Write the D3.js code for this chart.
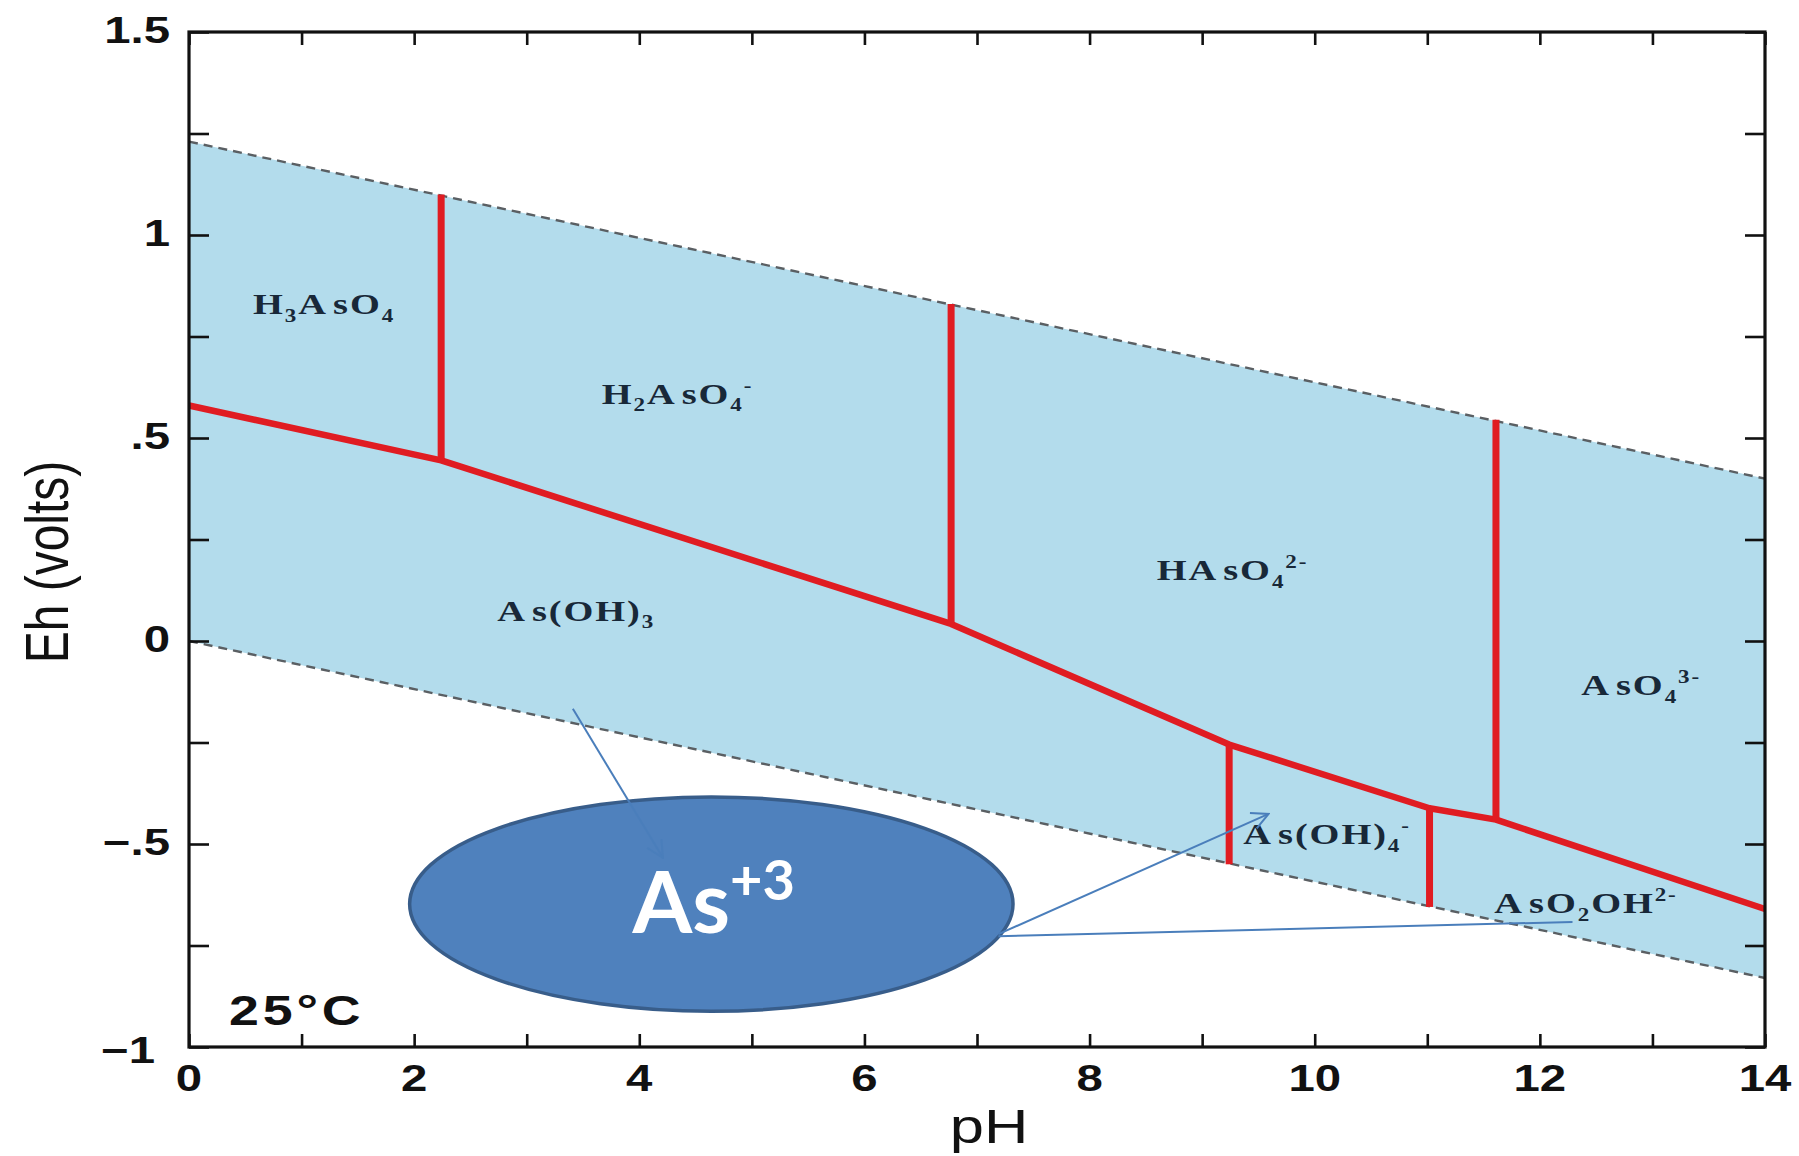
<!DOCTYPE html>
<html>
<head>
<meta charset="utf-8">
<script src="https://cdn.jsdelivr.net/npm/d3@7"></script>
<style>
  body { margin: 0; background: #fff; }
  svg { display: block; }
</style>
</head>
<body>
<div id="chart"></div>
<script>
// Eh-pH diagram for arsenic, 25°C
const xTicks = [0, 2, 4, 6, 8, 10, 12, 14];
const yTicks = [1.5, 1, 0.5, 0, -0.5, -1];
const yTickLabels = ['1.5', '1', '.5', '0', '\u2212.5', '\u22121'];

// stability limits of water (dashed)
const waterPH = [0, 14];
const waterUpperEh = [1.23, 0.40];
const waterLowerEh = [0, -0.83];

// As(V) / As(III) boundary
const redoxPH = [0, 2.24, 6.77, 9.24, 11.02, 11.61, 14];
const redoxEh = [0.58, 0.445, 0.042, -0.255, -0.412, -0.44, -0.66];

// vertical boundaries above the redox line
const upperSplitPH = [2.24, 6.77, 11.61];
const upperSplitTop = [1.10, 0.83, 0.545];
const upperSplitBottom = [0.445, 0.042, -0.44];

// vertical boundaries below the redox line
const lowerSplitPH = [9.24, 11.02];
const lowerSplitTop = [-0.255, -0.412];
const lowerSplitBottom = [-0.55, -0.655];

// species labels (baseline position, centre)
const speciesPH = [1.20, 4.34, 9.27, 12.9, 3.44, 10.11, 12.41];
const speciesEh = [0.805, 0.584, 0.15, -0.133, 0.05, -0.50, -0.67];
const speciesParts = [
  [['H'], ['3', 'sub'], ['A'], ['s', null, 4], ['O'], ['4', 'sub']],
  [['H'], ['2', 'sub'], ['A'], ['s', null, 4], ['O'], ['4', 'sub'], ['-', 'sup']],
  [['HA'], ['s', null, 4], ['O'], ['4', 'sub'], ['2-', 'sup']],
  [['A'], ['s', null, 4], ['O'], ['4', 'sub'], ['3-', 'sup']],
  [['A'], ['s(OH)', null, 4], ['3', 'sub']],
  [['A'], ['s(OH)', null, 4], ['4', 'sub'], ['-', 'sup']],
  [['A'], ['s', null, 4], ['O'], ['2', 'sub'], ['OH'], ['2-', 'sup']]
];

// callout: ellipse and pointers (in pH / volts)
const ionCenter = [4.64, -0.648];
const ionRadius = [2.68, 0.264];
const ionLabelPos = [3.94, -0.72];
const pointerFrom = [[3.41, -0.167], [7.19, -0.722], [7.19, -0.727]];
const pointerTo = [[4.21, -0.534], [9.59, -0.426], [12.29, -0.692]];
const pointerHead = [true, true, false];

const W = 1799, H = 1156;
const SX = 1.28; // source figure is stretched horizontally
const plot = { left: 189, right: 1765, top: 32, bottom: 1047 };

const svg = d3.select('#chart').append('svg')
  .attr('width', W).attr('height', H)
  .style('font-family', 'Liberation Sans, Arial, sans-serif');

const x = d3.scaleLinear().domain([0, 14]).range([plot.left, plot.right]);
const y = d3.scaleLinear().domain([-1, 1.5]).range([plot.bottom, plot.top]);

function stretched(px, py) {
  return svg.append('g').attr('transform', `translate(${px},${py}) scale(${SX},1)`);
}

function richText(sel, parts, size) {
  let shift = 0;
  parts.forEach(([t, kind, dx]) => {
    const target = kind === 'sub' ? 0.25 : kind === 'sup' ? -0.4 : 0;
    sel.append('tspan').text(t)
      .attr('font-size', kind ? size * 0.6 : size)
      .attr('dx', dx || 0)
      .attr('dy', (target - shift) * size);
    shift = target;
  });
}

// water field
const water = waterPH.map((p, i) => ({ ph: p, hi: waterUpperEh[i], lo: waterLowerEh[i] }));
svg.append('path')
  .datum(water)
  .attr('fill', '#b3dcec')
  .attr('d', d3.area().x(d => x(d.ph)).y0(d => y(d.lo)).y1(d => y(d.hi)));

[waterUpperEh, waterLowerEh].forEach(eh => {
  svg.append('path')
    .datum(waterPH.map((p, i) => [p, eh[i]]))
    .attr('fill', 'none')
    .attr('stroke', '#5a5f63')
    .attr('stroke-width', 2.4)
    .attr('stroke-dasharray', '9,6')
    .attr('d', d3.line().x(d => x(d[0])).y(d => y(d[1])));
});

// red boundaries
const red = '#e01c22';
svg.append('path')
  .datum(redoxPH.map((p, i) => [p, redoxEh[i]]))
  .attr('fill', 'none')
  .attr('stroke', red)
  .attr('stroke-width', 6.5)
  .attr('stroke-linejoin', 'round')
  .attr('d', d3.line().x(d => x(d[0])).y(d => y(d[1])));

const splits = upperSplitPH.map((p, i) => ({ ph: p, top: upperSplitTop[i], bottom: upperSplitBottom[i] }))
  .concat(lowerSplitPH.map((p, i) => ({ ph: p, top: lowerSplitTop[i], bottom: lowerSplitBottom[i] })));
svg.selectAll('.split')
  .data(splits)
  .join('line')
  .attr('class', 'split')
  .attr('x1', d => x(d.ph)).attr('x2', d => x(d.ph))
  .attr('y1', d => y(d.top)).attr('y2', d => y(d.bottom))
  .attr('stroke', red)
  .attr('stroke-width', 7);

// species names
speciesParts.forEach((parts, i) => {
  const t = stretched(x(speciesPH[i]), y(speciesEh[i])).append('text')
    .attr('text-anchor', 'middle')
    .attr('font-family', 'Liberation Serif, Times New Roman, serif')
    .attr('font-weight', 'bold')
    .attr('fill', '#182838')
    .attr('letter-spacing', 1.5);
  richText(t, parts, 30);
});

// axes: inward ticks on all four sides
const xMinor = d3.range(0, 14.01, 1);
const yMinor = d3.range(-1, 1.51, 0.25);
const axes = [
  [d3.axisBottom(x).tickValues(xMinor).tickSize(-13), plot.bottom, 'x'],
  [d3.axisTop(x).tickValues(xMinor).tickSize(-13), plot.top, 'x'],
  [d3.axisLeft(y).tickValues(yMinor).tickSize(-20), plot.left, 'y'],
  [d3.axisRight(y).tickValues(yMinor).tickSize(-20), plot.right, 'y']
];
axes.forEach(([ax, pos, dir]) => {
  const g = svg.append('g')
    .attr('transform', dir === 'x' ? `translate(0,${pos})` : `translate(${pos},0)`)
    .call(ax.tickFormat('').tickSizeOuter(0));
  g.select('.domain').remove();
  g.selectAll('.tick line').attr('stroke', '#111').attr('stroke-width', 2.6);
});
svg.append('rect')
  .attr('x', plot.left).attr('y', plot.top)
  .attr('width', plot.right - plot.left).attr('height', plot.bottom - plot.top)
  .attr('fill', 'none').attr('stroke', '#111').attr('stroke-width', 3.2);

// tick labels
xTicks.forEach(v => {
  stretched(x(v), 1091).append('text')
    .attr('text-anchor', 'middle').attr('font-weight', 'bold')
    .attr('font-size', 37).attr('fill', '#111').text(v);
});
yTicks.forEach((v, i) => {
  const last = i === yTicks.length - 1;
  stretched(last ? 155 : 170, y(v) + (last ? 16 : 11)).append('text')
    .attr('text-anchor', 'end').attr('font-weight', 'bold')
    .attr('font-size', 37).attr('fill', '#111').text(yTickLabels[i]);
});

// axis titles
stretched(989, 1143).append('text')
  .attr('text-anchor', 'middle').attr('font-size', 48).attr('fill', '#111').text('pH');
svg.append('g').attr('transform', `translate(68,562) scale(${SX},1) rotate(-90)`)
  .append('text')
  .attr('text-anchor', 'middle').attr('font-size', 48).attr('fill', '#111').text('Eh (volts)');

stretched(229, 1025).append('text')
  .attr('font-weight', 'bold').attr('font-size', 42).attr('letter-spacing', 3)
  .attr('fill', '#111').text('25°C');

// callout ellipse
svg.append('ellipse')
  .attr('cx', x(ionCenter[0])).attr('cy', y(ionCenter[1]))
  .attr('rx', x(ionCenter[0] + ionRadius[0]) - x(ionCenter[0]))
  .attr('ry', y(ionCenter[1] - ionRadius[1]) - y(ionCenter[1]))
  .attr('fill', '#4f81bd')
  .attr('stroke', '#385d8a')
  .attr('stroke-width', 3.5);

svg.append('defs').append('marker')
  .attr('id', 'head')
  .attr('markerUnits', 'userSpaceOnUse')
  .attr('viewBox', '0 0 12 12')
  .attr('refX', 11).attr('refY', 6)
  .attr('markerWidth', 20).attr('markerHeight', 20)
  .attr('orient', 'auto')
  .append('path')
  .attr('d', 'M1,1 L11,6 L1,11')
  .attr('fill', 'none').attr('stroke', '#4a7ebb').attr('stroke-width', 1.2);

pointerFrom.forEach((f, i) => {
  svg.append('line')
    .attr('x1', x(f[0])).attr('y1', y(f[1]))
    .attr('x2', x(pointerTo[i][0])).attr('y2', y(pointerTo[i][1]))
    .attr('stroke', '#4a7ebb').attr('stroke-width', 2)
    .attr('marker-end', pointerHead[i] ? 'url(#head)' : null);
});

const ion = svg.append('text')
  .attr('x', x(ionLabelPos[0])).attr('y', y(ionLabelPos[1]))
  .attr('font-family', 'Lato, Open Sans, sans-serif')
  .attr('font-weight', 'bold').attr('fill', '#fff');
ion.append('tspan').attr('font-size', 86).text('As');
ion.append('tspan').attr('font-size', 56).attr('dy', -33).text('+3');
</script>
</body>
</html>
